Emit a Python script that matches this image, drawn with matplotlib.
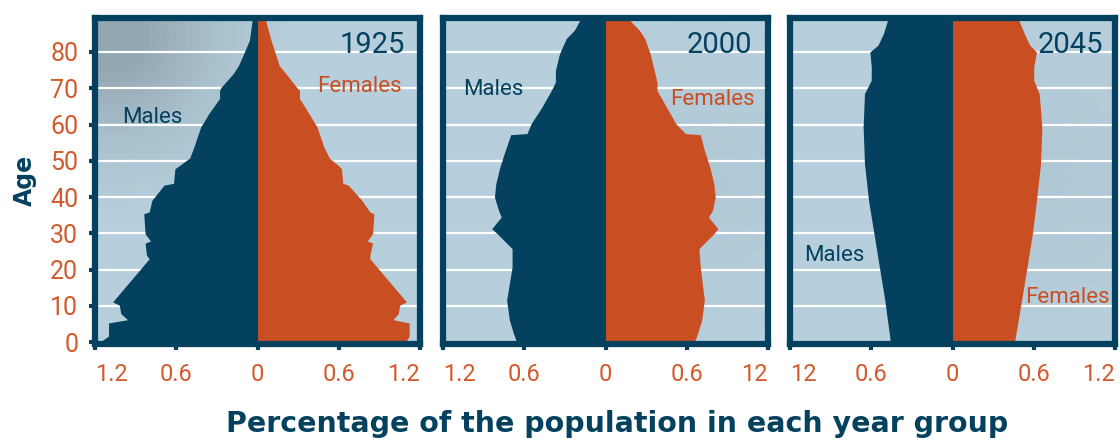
import numpy as np
import matplotlib
matplotlib.use("Agg")
import matplotlib.pyplot as plt
from matplotlib.colors import LinearSegmentedColormap

# colours
navy = "#03415f"
orange = "#c94f22"
tick_orange = "#d35a2c"

# ---- data (age, % of population) ----
ages_1925 = [89.5, 88.7, 83.2, 76.3, 74.0, 70.2, 69.4, 67.2, 63.0, 59.3, 53.8, 50.8,
             48.6, 47.8, 43.8, 43.3, 39.1, 35.9, 35.4, 29.9, 27.9, 27.3, 24.0, 23.0,
             11.1, 10.2, 7.9, 6.2, 5.3, 1.7, 0.4, -0.5]
males_1925 = [0.03, 0.04, 0.06, 0.14, 0.18, 0.27, 0.28, 0.28, 0.36, 0.42, 0.47, 0.50,
              0.58, 0.61, 0.62, 0.69, 0.78, 0.80, 0.84, 0.83, 0.79, 0.83, 0.82, 0.80,
              1.07, 1.02, 1.01, 0.96, 1.10, 1.10, 1.15, 1.16]
females_1925 = [0.05, 0.06, 0.10, 0.16, 0.21, 0.29, 0.31, 0.31, 0.38, 0.44, 0.49, 0.53,
                0.60, 0.62, 0.63, 0.67, 0.77, 0.83, 0.86, 0.85, 0.81, 0.85, 0.83, 0.83,
                1.10, 1.05, 1.04, 1.00, 1.12, 1.12, 1.10, 1.09]

ages_2000 = [89.5, 88.7, 86.0, 83.7, 79.5, 74.9, 71.7, 69.4, 64.8, 60.2, 57.5, 57.2,
             52.9, 48.3, 43.7, 40.0, 36.3, 34.5, 31.3, 29.9, 25.8, 20.7, 11.6, 6.1,
             2.4, 0.4, -0.5]
males_2000 = [0.18, 0.19, 0.23, 0.29, 0.34, 0.37, 0.37, 0.40, 0.47, 0.55, 0.58, 0.70,
              0.74, 0.78, 0.81, 0.82, 0.79, 0.77, 0.84, 0.80, 0.69, 0.69, 0.73, 0.71,
              0.68, 0.66, 0.66]
females_2000 = [0.18, 0.18, 0.25, 0.29, 0.33, 0.36, 0.38, 0.38, 0.45, 0.52, 0.59, 0.70,
                0.73, 0.77, 0.80, 0.81, 0.79, 0.76, 0.83, 0.80, 0.69, 0.70, 0.73, 0.71,
                0.68, 0.66, 0.66]

ages_2045 = [89.5, 88.7, 85.1, 81.9, 80.0, 75.9, 72.2, 68.5, 59.3, 49.2, 39.1, 29.9,
             20.7, 11.6, 0.4, -0.5]
males_2045 = [0.48, 0.48, 0.51, 0.55, 0.61, 0.60, 0.60, 0.65, 0.66, 0.65, 0.62, 0.58,
              0.54, 0.50, 0.46, 0.46]
females_2045 = [0.49, 0.49, 0.53, 0.57, 0.62, 0.60, 0.60, 0.64, 0.66, 0.65, 0.62, 0.59,
                0.55, 0.51, 0.46, 0.46]

years = ["1925", "2000", "2045"]
ages = [ages_1925, ages_2000, ages_2045]
males = [males_1925, males_2000, males_2045]
females = [females_1925, females_2000, females_2045]

x_ticks = [-1.2, -0.6, 0, 0.6, 1.2]
x_labels = [["1.2", "0.6", "0", "0.6", "1.2"],
            ["1.2", "0.6", "0", "0.6", "12"],
            ["12", "0.6", "0", "0.6", "1.2"]]
y_ticks = [0, 10, 20, 30, 40, 50, 60, 70, 80]

# label positions (data coords): year, males, females
year_pos = [(1.09, 81.8), (1.085, 81.8), (1.115, 81.8)]
male_pos = [(-0.78, 62.0), (-0.83, 69.7), (-0.87, 24.0)]
female_pos = [(0.75, 70.5), (0.79, 67.0), (0.85, 12.3)]

bg_cmap = LinearSegmentedColormap.from_list("bg", ["#b7cfdc", "#a9c0cd", "#93a7b2"])

fig = plt.figure(figsize=(11.2, 4.41), dpi=100)
lefts = [95, 443, 790]

for i in range(3):
    ax = fig.add_axes([lefts[i] / 1120, 97 / 441, 325 / 1120, 326.5 / 441])
    ax.set_xlim(-1.2, 1.2)
    ax.set_ylim(-0.5, 89.5)

    # soft background shading
    gx, gy = np.meshgrid(np.linspace(0, 1, 60), np.linspace(0, 1, 60))
    if i == 0:
        shade = np.clip(1.2 - 2.2 * np.hypot(gx - 0.05, gy - 0.95), 0, 1)
    else:
        shade = 0.25 * np.clip(1 - 2 * np.hypot(gx - 0.8, gy - 0.5), 0, 1)
    ax.imshow(shade, extent=(-1.2, 1.2, -0.5, 89.5), origin="lower", aspect="auto",
              cmap=bg_cmap, vmin=0, vmax=1, zorder=0)

    for y in y_ticks[1:]:
        ax.axhline(y, color="white", lw=1.6, zorder=1)

    a = np.array(ages[i])
    ax.fill_betweenx(a, -np.array(males[i]), 0, color=navy, lw=0, zorder=2)
    ax.fill_betweenx(a, 0, np.array(females[i]), color=orange, lw=0, zorder=2)

    for s in ax.spines.values():
        s.set_color(navy)
        s.set_linewidth(4.5)
        s.set_zorder(5)

    ax.set_xticks(x_ticks)
    ax.set_xticklabels(x_labels[i], fontsize=17, color=tick_orange, family="Roboto")
    xl = ax.get_xticklabels()
    xl[0].set_horizontalalignment("left")
    xl[-1].set_horizontalalignment("right")
    ax.tick_params(axis="x", length=4, width=3, color=navy, pad=10)
    ax.set_yticks(y_ticks)
    if i == 0:
        ax.set_yticklabels([str(t) for t in y_ticks], fontsize=18, color=tick_orange,
                           family="Roboto")
        ax.tick_params(axis="y", length=4, width=3, color=navy, pad=8)
    else:
        ax.set_yticklabels([])
        ax.tick_params(axis="y", length=0)

    ax.text(year_pos[i][0], year_pos[i][1], years[i], ha="right", va="center",
            fontsize=21, color=navy, family="Roboto", zorder=6)
    ax.text(male_pos[i][0], male_pos[i][1], "Males", ha="center", va="center",
            fontsize=16, color=navy, family="Roboto", zorder=6)
    ax.text(female_pos[i][0], female_pos[i][1], "Females", ha="center", va="center",
            fontsize=16, color=orange, family="Roboto", zorder=6)

fig.text(25 / 1120, 1 - 180 / 441, "Age", rotation=90, ha="center", va="center",
         fontsize=17, fontweight="bold", color=navy)
fig.text(617 / 1120, 1 - 424 / 441, "Percentage of the population in each year group",
         ha="center", va="center", fontsize=20.5, fontweight="bold", color=navy)

fig.savefig("out.png", dpi=100)
